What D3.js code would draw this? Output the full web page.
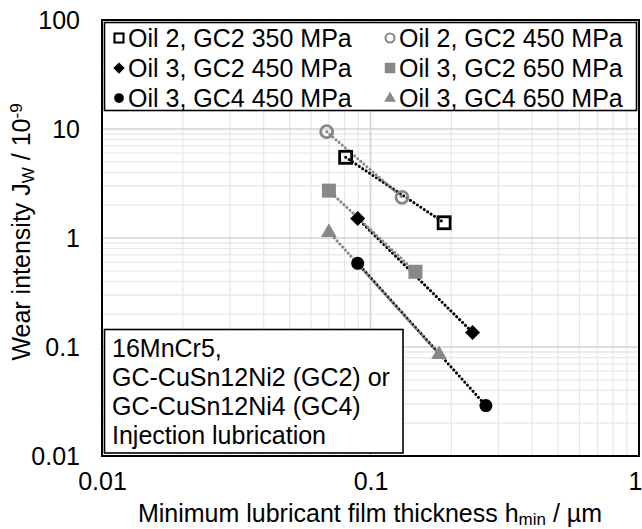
<!DOCTYPE html>
<html>
<head>
<meta charset="utf-8">
<script src="https://cdn.jsdelivr.net/npm/d3@7"></script>
<style>
  body { margin: 0; background: #fff; }
  svg { display: block; }
  text { font-family: "Liberation Sans", Arial, sans-serif; fill: #000; }
</style>
</head>
<body>
<svg id="chart" width="642" height="529"></svg>
<script>
// Wear intensity against minimum lubricant film thickness (log-log)
const seriesNames = [
  "Oil 2, GC2 350 MPa", "Oil 2, GC2 450 MPa",
  "Oil 3, GC2 450 MPa", "Oil 3, GC2 650 MPa",
  "Oil 3, GC4 450 MPa", "Oil 3, GC4 650 MPa"
];
// minimum film thickness h_min in µm
const hMin = [
  [0.0808, 0.188],
  [0.0687, 0.131],
  [0.0896, 0.240],
  [0.0700, 0.147],
  [0.0896, 0.269],
  [0.0700, 0.180]
];
// wear intensity J_W in 10^-9
const wearJ = [
  [5.5, 1.38],
  [9.45, 2.36],
  [1.51, 0.136],
  [2.72, 0.49],
  [0.586, 0.029],
  [1.14, 0.0863]
];
const xTickValues = [0.01, 0.1, 1];
const xTickLabels = ["0.01", "0.1", "1"];
const yTickValues = [0.01, 0.1, 1, 10, 100];
const yTickLabels = ["0.01", "0.1", "1", "10", "100"];
const noteLines = ["16MnCr5,", "GC-CuSn12Ni2 (GC2) or", "GC-CuSn12Ni4 (GC4)", "Injection lubrication"];

// marker styling per series
const markerShape = ["square", "circle", "diamond", "square", "circle", "triangle"];
const markerFilled = [false, false, true, true, true, true];
const seriesColor = ["#000", "#888", "#000", "#888", "#000", "#888"];

const svg = d3.select("#chart");
const plot = { left: 102, right: 639, top: 20, bottom: 456 };
const x = d3.scaleLog().domain([0.01, 1]).range([plot.left, plot.right]);
const y = d3.scaleLog().domain([0.01, 100]).range([plot.bottom, plot.top]);
const FONT = 25;

// grid: minor lines at 2..9 of each decade, major at the decades
function minorValues(lo, hi) {
  const out = [];
  for (let d = lo; d < hi * 0.999; d *= 10) for (let k = 2; k <= 9; k++) out.push(d * k);
  return out;
}
const grid = svg.append("g");
grid.selectAll(".gx").data(minorValues(0.01, 1)).join("line")
  .attr("x1", d => x(d)).attr("x2", d => x(d))
  .attr("y1", plot.top).attr("y2", plot.bottom)
  .attr("stroke", "#e8e8e8").attr("stroke-width", 1.3);
grid.selectAll(".gy").data(minorValues(0.01, 100)).join("line")
  .attr("y1", d => y(d)).attr("y2", d => y(d))
  .attr("x1", plot.left).attr("x2", plot.right)
  .attr("stroke", "#e8e8e8").attr("stroke-width", 1.3);
grid.selectAll(".mx").data(xTickValues).join("line")
  .attr("x1", d => x(d)).attr("x2", d => x(d))
  .attr("y1", plot.top).attr("y2", plot.bottom)
  .attr("stroke", "#d2d2d2").attr("stroke-width", 1.6);
grid.selectAll(".my").data(yTickValues).join("line")
  .attr("y1", d => y(d)).attr("y2", d => y(d))
  .attr("x1", plot.left).attr("x2", plot.right)
  .attr("stroke", "#d2d2d2").attr("stroke-width", 1.6);

// axes (labels only, ticks hidden)
const xAxis = d3.axisBottom(x).tickValues(xTickValues)
  .tickFormat((d, i) => xTickLabels[i]).tickSize(0).tickPadding(16);
const yAxis = d3.axisLeft(y).tickValues(yTickValues)
  .tickFormat((d, i) => yTickLabels[i]).tickSize(0).tickPadding(22);
const gx = svg.append("g").attr("transform", `translate(0,${plot.bottom})`).call(xAxis);
const gy = svg.append("g").attr("transform", `translate(${plot.left},0)`).call(yAxis);
[gx, gy].forEach(g => {
  g.select(".domain").remove();
  g.selectAll("text").attr("font-size", FONT).attr("font-family", "Liberation Sans, Arial, sans-serif").attr("fill", "#000");
});
gx.selectAll("text").attr("dy", "0.71em");
// last x label sits at the window edge: keep it inside
gx.selectAll(".tick").filter(d => d === 1).select("text")
  .attr("text-anchor", "end").attr("x", 642 - plot.right);
gy.selectAll("text").attr("dy", "0.35em");

// series lines (dotted)
const line = d3.line().x(d => x(d[0])).y(d => y(d[1]));
const series = seriesNames.map((n, i) => hMin[i].map((h, k) => [h, wearJ[i][k]]));
svg.append("g").selectAll("path").data(series).join("path")
  .attr("d", line)
  .attr("fill", "none")
  .attr("stroke", (d, i) => seriesColor[i])
  .attr("stroke-width", 3)
  .attr("stroke-linecap", "round")
  .attr("stroke-dasharray", "0.1,4");

// marker drawing
function drawMarker(g, i, cx, cy, s) {
  const c = seriesColor[i];
  const shape = markerShape[i];
  let el;
  if (shape === "square") {
    const a = markerFilled[i] ? 14 * s : 12 * s;
    el = g.append("rect").attr("x", cx - a / 2).attr("y", cy - a / 2).attr("width", a).attr("height", a);
  } else if (shape === "circle") {
    const r = markerFilled[i] ? 6.5 * s : 6 * s;
    el = g.append("circle").attr("cx", cx).attr("cy", cy).attr("r", r);
  } else if (shape === "diamond") {
    const r = 7.5 * s;
    el = g.append("path").attr("d", `M${cx},${cy - r}L${cx + r},${cy}L${cx},${cy + r}L${cx - r},${cy}Z`);
  } else {
    const r = 8.5 * s;
    el = g.append("path").attr("d", `M${cx},${cy - r}L${cx + r * 0.92},${cy + r * 0.6}L${cx - r * 0.92},${cy + r * 0.6}Z`);
  }
  if (markerFilled[i]) el.attr("fill", c).attr("stroke", "none");
  else el.attr("fill", "none").attr("stroke", c).attr("stroke-width", 2.8 * s);
}
const marks = svg.append("g");
series.forEach((pts, i) => pts.forEach(p => drawMarker(marks, i, x(p[0]), y(p[1]), 1)));

// legend box
const legend = svg.append("g");
legend.append("rect").attr("x", 104.5).attr("y", 22.5).attr("width", 532).attr("height", 88)
  .attr("fill", "#fff").attr("stroke", "#000").attr("stroke-width", 1.6);
const legCols = [119, 390];
const legRows = [38, 68, 98];
seriesNames.forEach((n, i) => {
  const cx = legCols[i % 2], cy = legRows[Math.floor(i / 2)];
  drawMarker(legend, i, cx, cy, 0.75);
  legend.append("text").attr("x", cx + 9).attr("y", cy).attr("dy", "0.35em")
    .attr("font-size", FONT).text(n);
});

// note box
const note = svg.append("g");
note.append("rect").attr("x", 104.5).attr("y", 329.5).attr("width", 298.5).attr("height", 123.5)
  .attr("fill", "#fff").attr("stroke", "#000").attr("stroke-width", 1.6);
note.selectAll("text").data(noteLines).join("text")
  .attr("x", 112).attr("y", (d, i) => 348 + i * 29).attr("dy", "0.35em")
  .attr("font-size", FONT).text(d => d);

// plot frame
svg.append("rect").attr("x", plot.left).attr("y", plot.top)
  .attr("width", plot.right - plot.left).attr("height", plot.bottom - plot.top)
  .attr("fill", "none").attr("stroke", "#000").attr("stroke-width", 2);

// axis titles
const xt = svg.append("text").attr("x", 370).attr("y", 522).attr("text-anchor", "middle").attr("font-size", FONT);
xt.append("tspan").text("Minimum lubricant film thickness h");
xt.append("tspan").attr("font-size", 17).attr("baseline-shift", "-15%").text("min");
xt.append("tspan").text(" / µm");

const yt = svg.append("text").attr("transform", "translate(30,232) rotate(-90)")
  .attr("text-anchor", "middle").attr("font-size", FONT);
yt.append("tspan").text("Wear intensity J");
yt.append("tspan").attr("font-size", 17).attr("baseline-shift", "-25%").text("W");
yt.append("tspan").text(" / 10");
yt.append("tspan").attr("font-size", 17).attr("baseline-shift", "45%").text("-9");
</script>
</body>
</html>
